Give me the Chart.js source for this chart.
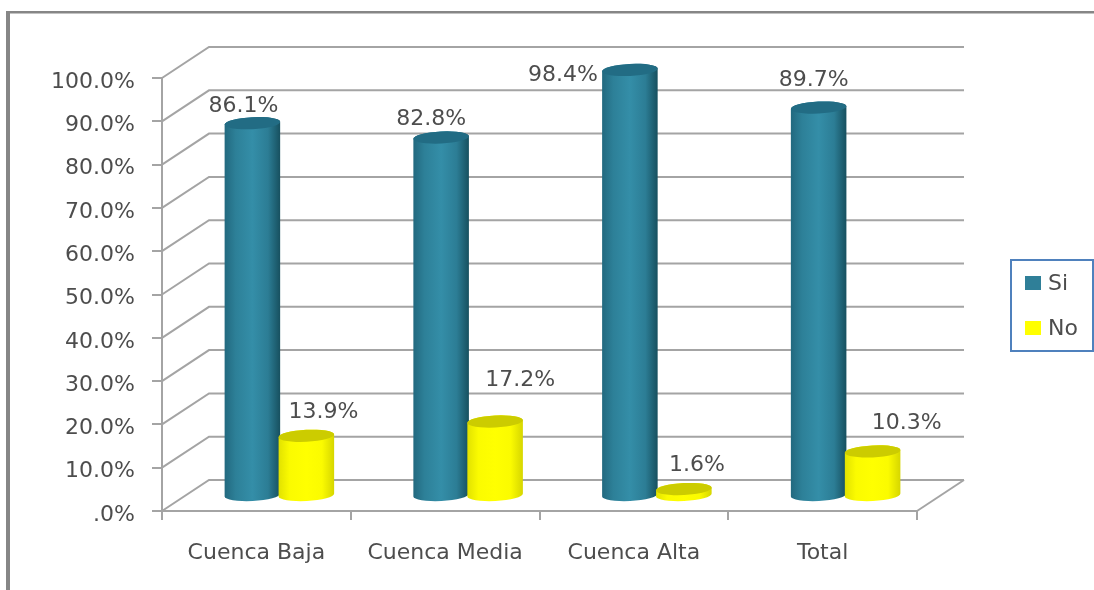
<!DOCTYPE html>
<html lang="es">
<head>
<meta charset="UTF-8">
<title>Cuencas</title>
<style>
  html, body { margin: 0; background: #fff; overflow: hidden; }
  canvas { display: block; filter: blur(0.7px); }
</style>
</head>
<body>
<canvas id="grafico" width="1094" height="590"></canvas>
<script src="https://cdn.jsdelivr.net/npm/chart.js"></script>
<script>
  const categorias = ['Cuenca Baja', 'Cuenca Media', 'Cuenca Alta', 'Total'];
  const valoresSi = [86.1, 82.8, 98.4, 89.7];
  const valoresNo = [13.9, 17.2, 1.6, 10.3];
  const ticksY = ['.0%', '10.0%', '20.0%', '30.0%', '40.0%', '50.0%', '60.0%', '70.0%', '80.0%', '90.0%', '100.0%'];
  const nombres = ['Si', 'No'];

  const fuente = '22px "DejaVu Sans"';
  const colorTexto = '#4d4d4d';
  const colorLinea = '#a4a4a4';

  // profundidad del "3D"
  const fondoX = 47, fondoY = -31;
  const barraX = 23, barraY = -15;
  const radioElipse = 6, giro = -0.05;

  // las etiquetas estan movidas a mano en el original [dx, dy desde la tapa]
  const movidas = [
    [[-9, -17], [-10, -18], [-67, 5], [-5, -27]],
    [[17, -24], [25, -41], [13, -24], [34, -28]]
  ];

  const pintura = [
    { paradas: ['#22697f', '#2d8098', '#348ea8', '#2c7d95', '#17505f'], tapa: '#226c84', sombra: '#2f7f98' },
    { paradas: ['#e2e200', '#fbfb00', '#ffff00', '#fbfb00', '#d6d600'], tapa: '#cccc00', sombra: '#ffff00' }
  ];

  function cilindro(c, x, tope, base, ancho, p) {
    const r = ancho / 2;
    const g = c.createLinearGradient(x - r, 0, x + r, 0);
    [0, 0.2, 0.5, 0.78, 1].forEach((s, i) => g.addColorStop(s, p.paradas[i]));
    c.fillStyle = g;
    c.beginPath();
    c.ellipse(x, tope, r, radioElipse, giro, Math.PI, 0, false);
    c.ellipse(x, base, r, radioElipse, giro, 0, Math.PI, false);
    c.closePath();
    c.fill();
    c.fillStyle = p.tapa;
    c.beginPath();
    c.ellipse(x, tope, r, radioElipse, giro, 0, Math.PI * 2);
    c.fill();
  }

  const pared = {
    id: 'pared',
    beforeDatasetsDraw(chart) {
      const c = chart.ctx, y = chart.scales.y, a = chart.chartArea;
      c.save();
      c.strokeStyle = colorLinea;
      c.lineWidth = 2;
      ticksY.forEach((t, i) => {
        const py = y.getPixelForValue(i * 10);
        c.beginPath();
        c.moveTo(a.left, py);
        c.lineTo(a.left + fondoX, py + fondoY);
        c.lineTo(a.right + fondoX, py + fondoY);
        c.stroke();
      });
      c.beginPath();
      c.moveTo(a.right, a.bottom);
      c.lineTo(a.right + fondoX, a.bottom + fondoY);
      c.stroke();
      c.restore();
    }
  };

  const cilindros = {
    id: 'cilindros',
    afterDatasetsDraw(chart) {
      const c = chart.ctx;
      c.save();
      chart.data.datasets.forEach((d, i) => {
        chart.getDatasetMeta(i).data.forEach((b, j) => {
          cilindro(c, b.x + barraX, b.y + barraY, b.base + barraY, b.width, pintura[i]);
        });
      });
      c.font = fuente;
      c.fillStyle = colorTexto;
      c.textAlign = 'center';
      c.textBaseline = 'middle';
      chart.data.datasets.forEach((d, i) => {
        chart.getDatasetMeta(i).data.forEach((b, j) => {
          const m = movidas[i][j];
          c.fillText(d.data[j].toFixed(1) + '%', b.x + barraX + m[0], b.y + barraY + m[1]);
        });
      });

      // leyenda
      c.strokeStyle = '#4f81bd';
      c.lineWidth = 2;
      c.fillStyle = '#fff';
      c.fillRect(1011, 260, 82, 91);
      c.strokeRect(1011, 260, 82, 91);
      c.textAlign = 'left';
      nombres.forEach((n, i) => {
        const ly = 283 + i * 45;
        c.fillStyle = pintura[i].sombra;
        c.fillRect(1025, ly - 7, 16, 14);
        c.fillStyle = colorTexto;
        c.fillText(n, 1048, ly + 1);
      });

      // marco
      c.fillStyle = '#868686';
      c.fillRect(6, 11, 1088, 2.5);
      c.fillRect(6, 11, 4, 579);
      c.restore();
    }
  };

  new Chart(document.getElementById('grafico'), {
    type: 'bar',
    data: {
      labels: categorias,
      datasets: [
        { label: nombres[0], data: valoresSi, backgroundColor: 'rgba(0,0,0,0)', categoryPercentage: 0.572, barPercentage: 1.03 },
        { label: nombres[1], data: valoresNo, backgroundColor: 'rgba(0,0,0,0)', categoryPercentage: 0.572, barPercentage: 1.03 }
      ]
    },
    options: {
      responsive: false,
      animation: false,
      layout: { padding: { top: 78, right: 177, left: 0, bottom: 0 } },
      plugins: { legend: { display: false }, tooltip: { enabled: false } },
      scales: {
        x: {
          afterFit: s => { s.height = 79; },
          grid: { drawOnChartArea: false, color: colorLinea, lineWidth: 2, tickLength: 9 },
          border: { color: colorLinea, width: 2 },
          ticks: { font: { family: 'DejaVu Sans', size: 22 }, color: colorTexto, padding: 20, maxRotation: 0 }
        },
        y: {
          min: 0,
          max: 100,
          afterFit: s => { s.width = 162; },
          grid: { drawOnChartArea: false, color: colorLinea, lineWidth: 2, tickLength: 10 },
          border: { color: colorLinea, width: 2 },
          ticks: {
            stepSize: 10,
            font: { family: 'DejaVu Sans', size: 22 },
            color: colorTexto,
            padding: 17,
            labelOffset: 4,
            callback: (v, i) => ticksY[i]
          }
        }
      }
    },
    plugins: [pared, cilindros]
  });
</script>
</body>
</html>
